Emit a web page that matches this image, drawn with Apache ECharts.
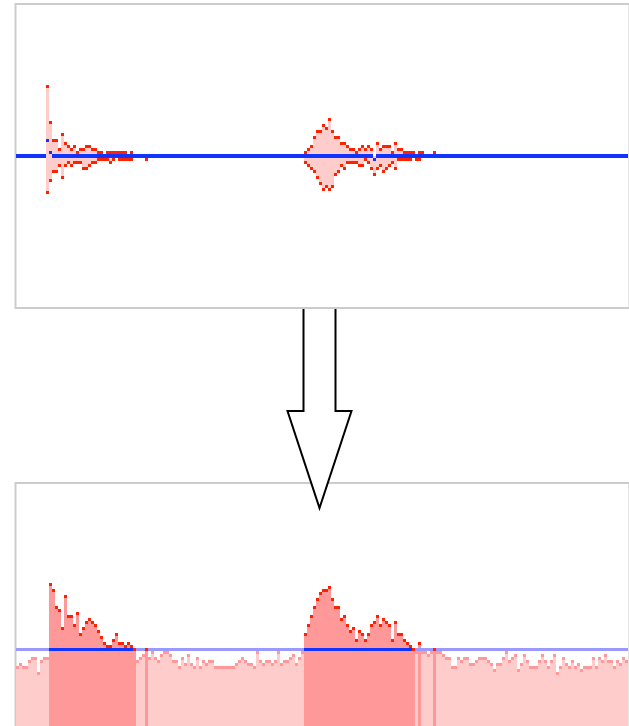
<!DOCTYPE html>
<html>
<head>
<meta charset="utf-8">
<script src="https://cdn.jsdelivr.net/npm/echarts@6/dist/echarts.min.js"></script>
<style>
  html, body { margin: 0; padding: 0; background: #ffffff; }
  #chart { width: 629px; height: 726px; }
</style>
</head>
<body>
<div id="chart"></div>
<script>
// Frame bins shared by both panels
const BIN_COUNT = 204;
const bins = Array.from({ length: BIN_COUNT }, (_, i) => i);

// Waveform envelope, first burst (starts at bin 10)
const burstAStart = 10;
const burstAMax = [69.5, 33.5, 15.5, 15.5, 6.5, 21.5, 12.5, 9.5, 6.5, 9.5,
                   3.5, 6.5, 6.5, 9.5, 9.5, 6.5, 6.5, 3.5, 3.5, 0,
                   3.5, 3.5, 3.5, 3.5, 3.5, 3.5, 3.5, 0, 3.5, 0,
                   0, 0, 0, 0];
const burstAMin = [-36.5, -24.5, -15.5, -15.5, -9.5, -21.5, -9.5, -6.5, -9.5, -6.5,
                   -6.5, -6.5, -12.5, -12.5, -9.5, -6.5, -6.5, -3.5, -3.5, -3.5,
                   -3.5, -6.5, -3.5, 0, -3.5, -3.5, -3.5, -3.5, -3.5, 0,
                   0, 0, 0, -3.5];

// Waveform envelope, second burst (starts at bin 96)
const burstBStart = 96;
const burstBMax = [3.5, 6.5, 9.5, 18.5, 24.5, 24.5, 30.5, 27.5, 36.5, 24.5,
                   18.5, 18.5, 12.5, 12.5, 9.5, 6.5, 6.5, 3.5, 6.5, 9.5,
                   6.5, 9.5, 6.5, 0, 12.5, 6.5, 9.5, 9.5, 9.5, 3.5,
                   12.5, 6.5, 6.5, 3.5, 3.5, 3.5, 3.5, 0, 3.5, 3.5,
                   0, 0, 0, 3.5];
const burstBMin = [-6.5, -9.5, -12.5, -15.5, -21.5, -27.5, -33.5, -30.5, -33.5, -30.5,
                   -18.5, -15.5, -9.5, -12.5, -6.5, -6.5, -6.5, -6.5, -9.5, -9.5,
                   -3.5, -6.5, -12.5, -18.5, -12.5, -9.5, -15.5, -12.5, -9.5, -6.5,
                   -12.5, -3.5, -3.5, -3.5, -3.5, -3.5, 0, -3.5, -3.5, 0,
                   0, 0, 0, 0];

// Per-bin DC offset (non-zero bins only)
const offsetBins = [10, 11, 119];
const offsetValues = [15.5, 3.5, -3.5];

// Short-term energy per bin
const energy = [
  58.5, 61.5, 58.5, 58.5, 64.5, 67.5, 67.5, 52.5, 64.5, 67.5, 67.5,
  141.5, 135.5, 118.5, 115.5, 97.5, 129.5, 109.5, 109.5, 100.5, 112.5,
  91.5, 97.5, 103.5, 106.5, 103.5, 100.5, 94.5, 88.5, 82.5, 79.5,
  79.5, 85.5, 91.5, 82.5, 82.5, 79.5, 82.5, 79.5, 76.5, 64.5,
  67.5, 70.5, 76.5, 67.5, 73.5, 67.5, 64.5, 70.5, 73.5, 73.5,
  70.5, 64.5, 64.5, 58.5, 67.5, 61.5, 70.5, 61.5, 58.5, 67.5,
  58.5, 64.5, 61.5, 64.5, 64.5, 58.5, 58.5, 58.5, 58.5, 58.5,
  58.5, 58.5, 61.5, 64.5, 67.5, 64.5, 61.5, 61.5, 58.5, 73.5,
  64.5, 61.5, 64.5, 64.5, 61.5, 64.5, 73.5, 61.5, 64.5, 64.5,
  67.5, 70.5, 61.5, 67.5, 73.5, 91.5, 100.5, 109.5, 118.5, 126.5,
  132.5, 135.5, 135.5, 138.5, 126.5, 118.5, 118.5, 106.5, 109.5, 100.5,
  94.5, 97.5, 85.5, 94.5, 91.5, 85.5, 91.5, 100.5, 103.5, 109.5,
  100.5, 106.5, 103.5, 100.5, 85.5, 103.5, 91.5, 91.5, 85.5, 82.5,
  79.5, 76.5, 73.5, 82.5, 73.5, 73.5, 70.5, 73.5, 76.5, 73.5,
  73.5, 70.5, 67.5, 67.5, 58.5, 58.5, 67.5, 64.5, 67.5, 67.5,
  61.5, 61.5, 64.5, 67.5, 67.5, 67.5, 64.5, 61.5, 55.5, 61.5,
  61.5, 67.5, 73.5, 64.5, 67.5, 70.5, 55.5, 61.5, 70.5, 64.5,
  58.5, 58.5, 58.5, 64.5, 70.5, 64.5, 58.5, 64.5, 70.5, 52.5,
  58.5, 67.5, 61.5, 58.5, 64.5, 58.5, 61.5, 55.5, 58.5, 58.5,
  58.5, 67.5, 58.5, 67.5, 64.5, 70.5, 64.5, 64.5, 58.5, 64.5,
  61.5, 67.5, 64.5
];

// Energy threshold and detected segments [firstBin, lastBin]
const threshold = 76.5;
const segmentStarts = [11, 96];
const segmentEnds = [39, 132];

// Colours
const PINK = '#ffcccc';
const SALMON = '#ff9999';
const RED = '#ff2200';
const BLUE = '#1133ff';
const PALE_BLUE = '#9999ff';
const FRAME = '#cccccc';

// Expand bursts into full-length envelope arrays
const waveMax = new Array(BIN_COUNT).fill(0);
const waveMin = new Array(BIN_COUNT).fill(0);
const waveMean = new Array(BIN_COUNT).fill(0);
burstAMax.forEach((v, k) => { waveMax[burstAStart + k] = v; });
burstAMin.forEach((v, k) => { waveMin[burstAStart + k] = v; });
burstBMax.forEach((v, k) => { waveMax[burstBStart + k] = v; });
burstBMin.forEach((v, k) => { waveMin[burstBStart + k] = v; });
offsetBins.forEach((b, k) => { waveMean[b] = offsetValues[k]; });

function inSegment(i) {
  for (let s = 0; s < segmentStarts.length; s++) {
    if (i >= segmentStarts[s] && i <= segmentEnds[s]) return true;
  }
  return false;
}

const waveData = bins.map(i => [i, waveMax[i], waveMin[i], waveMean[i]]);
const energyData = bins.map(i => [i, energy[i], inSegment(i) ? 1 : 0]);

function capRect(x, yc, w, color) {
  return { type: 'rect', shape: { x: x, y: yc - 1.5, width: w, height: 3 }, style: { fill: color } };
}

function renderWave(params, api) {
  const i = api.value(0), hi = api.value(1), lo = api.value(2), mean = api.value(3);
  const w = api.size([1, 0])[0];
  const pHi = api.coord([i, hi]);
  const pLo = api.coord([i, lo]);
  const x = pHi[0] - w / 2;
  const children = [];
  if (hi !== lo) {
    children.push({ type: 'rect', shape: { x: x, y: pHi[1], width: w, height: pLo[1] - pHi[1] }, style: { fill: PINK } });
  }
  if (hi !== 0) children.push(capRect(x, pHi[1], w, RED));
  if (lo !== 0) children.push(capRect(x, pLo[1], w, RED));
  const pM = api.coord([i, mean]);
  const mh = mean === 0 ? 4 : 3;
  children.push({ type: 'rect', shape: { x: x, y: pM[1] - mh / 2, width: w, height: mh }, style: { fill: BLUE } });
  return { type: 'group', children: children };
}

function renderEnergy(params, api) {
  const i = api.value(0), v = api.value(1), seg = api.value(2);
  const w = api.size([1, 0])[0];
  const p0 = api.coord([i, 0]);
  const pV = api.coord([i, v]);
  const pT = api.coord([i, threshold]);
  const x = p0[0] - w / 2;
  const loud = v >= threshold;
  return {
    type: 'group',
    children: [
      { type: 'rect', shape: { x: x, y: pV[1], width: w, height: p0[1] - pV[1] }, style: { fill: loud ? SALMON : PINK } },
      { type: 'rect', shape: { x: x, y: pT[1] - 1.5, width: w, height: 3 }, style: { fill: seg ? BLUE : PALE_BLUE } },
      capRect(x, pV[1], w, loud ? RED : SALMON)
    ]
  };
}

// Downward arrow outline between the two panels
const arrowPoints = [[303.5, 309], [303.5, 411], [287.5, 411], [319.5, 508], [351.5, 411], [335.5, 411], [335.5, 309]];

const chart = echarts.init(document.getElementById('chart'), null, { renderer: 'canvas' });

chart.setOption({
  animation: false,
  backgroundColor: '#ffffff',
  grid: [
    { left: 16, top: 4, width: 612, height: 304 },
    { left: 16, top: 484, width: 612, height: 242 }
  ],
  xAxis: [
    { type: 'category', gridIndex: 0, data: bins, boundaryGap: true, show: false },
    { type: 'category', gridIndex: 1, data: bins, boundaryGap: true, show: false }
  ],
  yAxis: [
    { type: 'value', gridIndex: 0, min: -152, max: 152, show: false },
    { type: 'value', gridIndex: 1, min: 0, max: 242, show: false }
  ],
  graphic: [
    { type: 'rect', silent: true, shape: { x: 15.5, y: 4, width: 614, height: 304 },
      style: { fill: null, stroke: FRAME, lineWidth: 2 } },
    { type: 'rect', silent: true, shape: { x: 15.5, y: 483, width: 614, height: 260 },
      style: { fill: null, stroke: FRAME, lineWidth: 2 } },
    { type: 'polygon', silent: true, shape: { points: arrowPoints },
      style: { fill: '#ffffff', stroke: null } },
    { type: 'polyline', silent: true, shape: { points: arrowPoints },
      style: { fill: null, stroke: '#000000', lineWidth: 2, lineJoin: 'miter' } }
  ],
  series: [
    { type: 'custom', name: 'waveform', xAxisIndex: 0, yAxisIndex: 0, silent: true,
      clip: false, renderItem: renderWave, data: waveData },
    { type: 'custom', name: 'energy', xAxisIndex: 1, yAxisIndex: 1, silent: true,
      clip: false, renderItem: renderEnergy, data: energyData }
  ]
});
</script>
</body>
</html>
